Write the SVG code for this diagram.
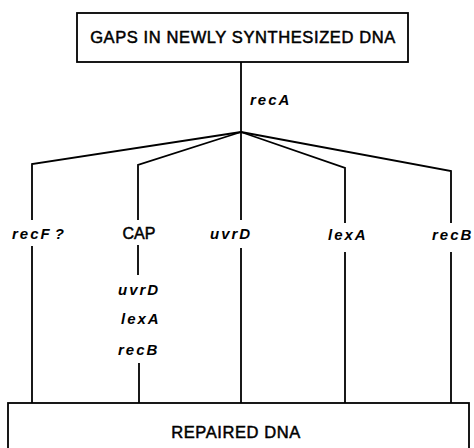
<svg xmlns="http://www.w3.org/2000/svg" width="474" height="448" viewBox="0 0 474 448">
<style>
.box{fill:#fff;stroke:#000;stroke-width:1.8}
.ln{fill:none;stroke:#000;stroke-width:1.8;stroke-linejoin:miter}
.cap{font-family:"Liberation Sans",Arial,sans-serif;font-size:16.5px;letter-spacing:0.6px;fill:#000;stroke:#000;stroke-width:0.5}
.it{font-family:"Liberation Sans",Arial,sans-serif;font-size:15px;font-style:italic;font-weight:bold;letter-spacing:2px;fill:#000}
.up{font-family:"Liberation Sans",Arial,sans-serif;font-size:16px;fill:#000;stroke:#000;stroke-width:0.5}
</style>
<rect width="474" height="448" fill="#fff"/>
<g id="connectors">
<path class="ln" d="M241,62 V220"/>
<path class="ln" d="M241,132 L32,164 V220"/>
<path class="ln" d="M241,132 L138,165 V220"/>
<path class="ln" d="M241,132 L345,168 V223"/>
<path class="ln" d="M241,132 L451,171 V223"/>
<path class="ln" d="M32,246 V403"/>
<path class="ln" d="M138,245 V275"/>
<path class="ln" d="M139,363 V403"/>
<path class="ln" d="M241,248 V403"/>
<path class="ln" d="M345,252 V403"/>
<path class="ln" d="M451,252 V403"/>
</g>
<g id="gaps">
<rect class="box" x="77" y="13" width="331" height="49"/>
<text class="cap" x="243" y="43" text-anchor="middle">GAPS IN NEWLY SYNTHESIZED DNA</text>
</g>
<g id="repaired">
<rect class="box" x="8" y="403" width="461" height="60"/>
<text class="cap" x="236" y="438" text-anchor="middle">REPAIRED DNA</text>
</g>
<g id="recA"><text class="it" x="250" y="105">recA</text></g>
<g id="recF"><text class="it" x="12" y="239">recF<tspan dx="3">?</tspan></text></g>
<g id="CAP"><text class="up" x="139" y="239" text-anchor="middle">CAP</text></g>
<g id="uvrD"><text class="it" x="210" y="239">uvrD</text></g>
<g id="lexA"><text class="it" x="328" y="240">lexA</text></g>
<g id="recB"><text class="it" x="432" y="240">recB</text></g>
<g id="cap-uvrD"><text class="it" x="118" y="295">uvrD</text></g>
<g id="cap-lexA"><text class="it" x="121" y="324">lexA</text></g>
<g id="cap-recB"><text class="it" x="118" y="355">recB</text></g>
</svg>
